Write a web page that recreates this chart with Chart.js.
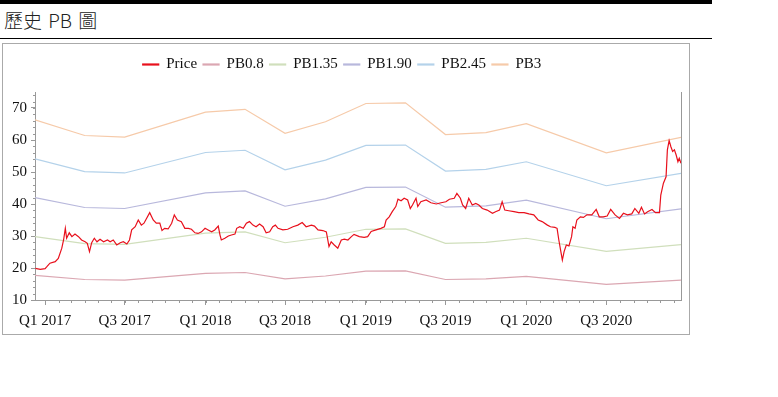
<!DOCTYPE html>
<html>
<head>
<meta charset="utf-8">
<script src="https://cdn.jsdelivr.net/npm/chart.js@4.4.1/dist/chart.umd.min.js"></script>
<style>
    body { margin: 0; background: #fff; width: 778px; height: 397px; position: relative; overflow: hidden; }
    #topbar { position: absolute; left: 0; top: 0; width: 712px; height: 4px; background: #000; }
    #title { position: absolute; left: 4px; top: 7px; font-family: "Noto Sans CJK TC", sans-serif; font-weight: 300; font-size: 19px; line-height: 26px; color: #222; word-spacing: 2px; }
    #rule { position: absolute; left: 0; top: 38px; width: 712px; height: 1px; background: #000; }
    #box { position: absolute; left: 2px; top: 43px; width: 686px; height: 290px; border: 1px solid #aaa; }
    #pb-chart { display: block; }
</style>
</head>
<body>
<div id="topbar"></div>
<div id="title">歷史 PB 圖</div>
<div id="rule"></div>
<div id="box"><canvas id="pb-chart" width="686" height="290"></canvas></div>
<script>
// Eixo X em dias desde 01/01/2017
const tickLabels = ['Q1 2017', 'Q3 2017', 'Q1 2018', 'Q3 2018', 'Q1 2019', 'Q3 2019', 'Q1 2020', 'Q3 2020'];

const priceDays = [
    -22, -11, 0, 4, 11, 23, 30, 38, 42, 46, 49, 55, 61, 68, 76, 83, 91, 96, 101, 106,
    112, 118, 125, 133, 142, 148, 155, 163, 171, 178, 186, 192, 197, 205, 212, 219, 225, 238, 246, 253,
    261, 266, 272, 280, 288, 294, 301, 310, 318, 326, 333, 341, 348, 356, 364, 371, 379, 386, 394, 398,
    401, 409, 417, 424, 432, 436, 443, 451, 458, 465, 473, 480, 488, 496, 503, 511, 518, 524, 530, 541,
    552, 564, 575, 585, 594, 606, 613, 621, 632, 640, 646, 651, 658, 666, 674, 681, 689, 697, 703, 715,
    726, 734, 742, 753, 764, 772, 776, 783, 790, 798, 803, 810, 817, 825, 831, 836, 844, 848, 855, 867,
    878, 890, 901, 912, 920, 931, 937, 945, 950, 957, 964, 972, 980, 987, 995, 1006, 1018, 1025, 1034, 1040,
    1046, 1055, 1067, 1078, 1090, 1101, 1112, 1122, 1131, 1143, 1150, 1160, 1165, 1169, 1173, 1177, 1181, 1186, 1192, 1198,
    1201, 1206, 1210, 1218, 1225, 1233, 1244, 1254, 1261, 1270, 1279, 1287, 1297, 1307, 1316, 1325, 1335, 1342, 1351, 1357,
    1364, 1371, 1381, 1389, 1398, 1401, 1407, 1413, 1416, 1420, 1424, 1428, 1432, 1436, 1440, 1443, 1447
];
const priceValues = [
    19.9, 19.6, 19.8, 20.4, 21.5, 22.0, 23.0, 26.2, 28.75, 32.4, 29.3, 31.0, 29.8, 30.6, 29.8, 28.75, 28.2, 27.7, 25.1, 27.9,
    29.3, 28.2, 29.0, 28.2, 28.75, 28.2, 28.75, 27.2, 27.9, 28.2, 27.5, 28.75, 31.9, 32.9, 35.0, 33.4, 34.0, 37.3, 35.0, 34.0,
    34.0, 31.7, 32.4, 32.2, 34.0, 36.6, 35.0, 34.5, 32.4, 32.4, 32.1, 31.0, 30.8, 31.3, 32.4, 31.9, 31.3, 31.9, 33.1, 30.3,
    28.75, 29.3, 30.0, 30.3, 30.6, 32.4, 32.9, 32.4, 34.0, 34.5, 33.4, 32.9, 33.75, 32.9, 31.0, 31.3, 32.9, 33.4, 32.4, 31.9,
    32.1, 32.9, 33.4, 34.2, 32.9, 33.4, 33.1, 31.9, 31.7, 31.3, 26.7, 28.2, 27.2, 26.2, 28.75, 29.0, 28.75, 29.8, 30.5, 29.8,
    29.6, 29.8, 31.4, 31.9, 32.4, 32.9, 35.0, 36.0, 37.6, 39.2, 41.5, 41.0, 41.8, 41.25, 38.6, 39.7, 41.8, 39.2, 40.7, 41.25,
    40.4, 40.0, 40.4, 40.7, 41.5, 41.8, 43.3, 41.8, 39.7, 38.6, 41.8, 39.7, 40.2, 39.7, 38.6, 38.1, 37.1, 37.6, 38.1, 40.7,
    38.1, 37.9, 37.6, 37.3, 37.3, 36.9, 36.6, 35.0, 34.5, 33.4, 32.9, 32.7, 32.4, 28.75, 25.6, 22.5, 25.1, 27.2, 26.9, 29.8,
    32.9, 32.4, 35.0, 36.0, 35.8, 36.6, 36.6, 38.3, 36.0, 36.0, 36.25, 38.3, 36.6, 35.5, 37.1, 36.6, 36.9, 38.6, 37.1, 39.0,
    36.9, 37.6, 38.3, 37.3, 37.3, 42.8, 46.5, 48.5, 56.9, 59.8, 57.9, 56.4, 56.9, 55.3, 53.2, 54.3, 52.7
];

// Vértices trimestrais das linhas de PB
const pbDays = [-23, 90, 181, 365, 455, 546, 638, 730, 820, 911, 1003, 1095, 1277, 1447];
const pb08  = [17.7, 16.4, 16.2, 18.3, 18.6, 16.6, 17.5, 19.0, 19.1, 16.4, 16.6, 17.4, 14.9, 16.2];
const pb135 = [29.8, 27.6, 27.4, 30.9, 31.3, 27.9, 29.6, 32.1, 32.2, 27.7, 28.0, 29.3, 25.2, 27.3];
const pb190 = [42.0, 38.9, 38.6, 43.5, 44.1, 39.3, 41.6, 45.2, 45.3, 39.0, 39.4, 41.2, 35.4, 38.5];
const pb245 = [54.1, 50.1, 49.7, 56.1, 56.8, 50.7, 53.7, 58.3, 58.4, 50.3, 50.8, 53.2, 45.7, 49.6];
const pb3   = [66.3, 61.4, 60.9, 68.7, 69.6, 62.1, 65.7, 71.4, 71.6, 61.7, 62.3, 65.1, 56.0, 60.8];

const X_MIN = -23;
const X_MAX = 1447;

function dayOf(year, month) {
    return (Date.UTC(year, month, 1) - Date.UTC(2017, 0, 1)) / 86400000;
}

const majorTickDays = tickLabels.map(l => dayOf(+l.slice(3), l[1] === '1' ? 0 : 6));
const minorTickDays = [];
for (let y = 2017; y <= 2020; y++) {
    for (let m = 0; m < 12; m++) {
        const d = dayOf(y, m);
        if (d >= X_MIN && d <= X_MAX) minorTickDays.push(d);
    }
}

function toPoints(xs, ys) {
    return xs.map((x, i) => ({ x: x, y: ys[i] }));
}

function lineSet(label, xs, ys, color, width) {
    return {
        label: label,
        data: toPoints(xs, ys),
        borderColor: color,
        backgroundColor: color,
        borderWidth: width,
        pointRadius: 0,
        tension: 0,
        fill: false
    };
}

const serif = '"Liberation Serif", "Times New Roman", serif';

// Marcas menores, borda direita
const extras = {
    id: 'extras',
    beforeInit(chart) {
        const origFit = chart.legend.fit;
        chart.legend.fit = function () {
            origFit.call(this);
            this.height = 41;
        };
    },
    afterDraw(chart) {
        const ctx = chart.ctx;
        const area = chart.chartArea;
        const xs = chart.scales.x;
        const ys = chart.scales.y;
        ctx.save();
        ctx.strokeStyle = '#999';
        ctx.lineWidth = 1;
        ctx.beginPath();
        minorTickDays.forEach(d => {
            const px = Math.round(xs.getPixelForValue(d)) + 0.5;
            ctx.moveTo(px, area.bottom);
            ctx.lineTo(px, area.bottom + 3);
        });
        for (let v = 10; v <= 74; v += 2) {
            const py = Math.round(ys.getPixelForValue(v)) + 0.5;
            ctx.moveTo(area.left, py);
            ctx.lineTo(area.left - 2, py);
        }
        ctx.moveTo(Math.round(area.right) + 0.5, area.top);
        ctx.lineTo(Math.round(area.right) + 0.5, area.bottom);
        ctx.stroke();
        ctx.restore();
    }
};

const ctx = document.getElementById('pb-chart').getContext('2d');
const pbChart = new Chart(ctx, {
    type: 'line',
    data: {
        datasets: [
            lineSet('Price', priceDays, priceValues, '#e8101c', 1.2),
            lineSet('PB0.8', pbDays, pb08, '#dba7b2', 1.2),
            lineSet('PB1.35', pbDays, pb135, '#d0dfbc', 1.2),
            lineSet('PB1.90', pbDays, pb190, '#b8b8dc', 1.2),
            lineSet('PB2.45', pbDays, pb245, '#b4d2ea', 1.2),
            lineSet('PB3', pbDays, pb3, '#f6caa9', 1.2)
        ]
    },
    options: {
        responsive: false,
        animation: false,
        devicePixelRatio: 1,
        layout: { padding: { top: 7, right: 8, left: 0, bottom: 0 } },
        plugins: {
            legend: {
                position: 'top',
                labels: {
                    boxWidth: 16,
                    boxHeight: 1,
                    padding: 6,
                    color: '#111',
                    font: { family: serif, size: 15 }
                }
            },
            tooltip: { enabled: false }
        },
        scales: {
            x: {
                type: 'linear',
                min: X_MIN,
                max: X_MAX,
                afterBuildTicks: axis => {
                    axis.ticks = majorTickDays.map(v => ({ value: v }));
                },
                afterFit: axis => { axis.height = 34; },
                ticks: {
                    autoSkip: false,
                    maxRotation: 0,
                    minRotation: 0,
                    padding: 7,
                    color: '#111',
                    font: { family: serif, size: 15 },
                    callback: (value, index) => tickLabels[index]
                },
                grid: { drawOnChartArea: false, drawTicks: true, tickLength: 5, tickColor: '#999' },
                border: { display: true, color: '#999' }
            },
            y: {
                min: 10,
                max: 75,
                afterFit: axis => { axis.width = 32; },
                ticks: {
                    stepSize: 10,
                    includeBounds: false,
                    padding: 4,
                    color: '#111',
                    font: { family: serif, size: 15 }
                },
                grid: { drawOnChartArea: false, drawTicks: true, tickLength: 4, tickColor: '#999' },
                border: { display: true, color: '#999' }
            }
        }
    },
    plugins: [extras]
});
</script>
</body>
</html>
